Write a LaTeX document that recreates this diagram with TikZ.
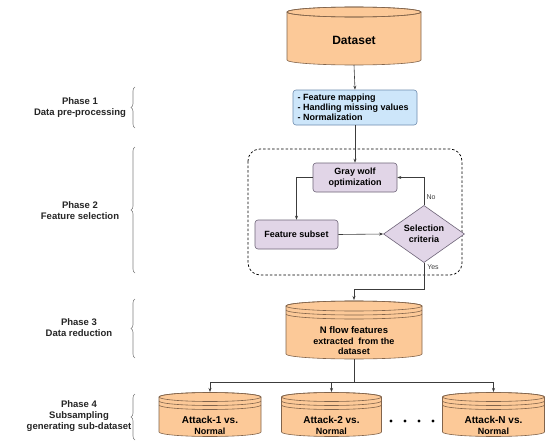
\documentclass[tikz,border=0pt]{standalone}
\usepackage{fontspec}
\setmainfont{Liberation Sans}
\usetikzlibrary{shapes.geometric,arrows.meta,decorations.pathreplacing}
\definecolor{cylfill}{RGB}{252,201,152}
\definecolor{cyldraw}{RGB}{130,100,75}
\definecolor{bluefill}{RGB}{205,230,250}
\definecolor{bluedraw}{RGB}{110,140,175}
\definecolor{purpfill}{RGB}{225,213,231}
\definecolor{purpdraw}{RGB}{110,100,120}
\definecolor{linec}{RGB}{60,60,60}
\tikzset{
  txt/.style={font=\bfseries\fontsize{9}{10.5}\selectfont, align=center, inner sep=0pt},
  phase/.style={font=\bfseries\fontsize{9.5}{11}\selectfont, align=center, text=black!85},
  bluebox/.style={draw=bluedraw, fill=bluefill, rounded corners=3pt, line width=0.6pt},
  purpbox/.style={draw=purpdraw, fill=purpfill, rounded corners=3pt, line width=0.6pt, font=\bfseries\fontsize{9}{10.5}\selectfont, align=center},
  diam/.style={diamond, draw=purpdraw, fill=purpfill, line width=0.6pt, minimum width=81pt, minimum height=50pt, inner sep=0pt, font=\bfseries\fontsize{9}{10.5}\selectfont, align=center},
  conn/.style={draw=linec, line width=0.6pt, -{Stealth[length=4pt,width=3pt]}},
  plain/.style={draw=linec, line width=0.6pt},
  brc/.style={draw=gray, line width=0.6pt, decorate, decoration={brace, amplitude=4pt}},
  smalltxt/.style={font=\fontsize{7}{8}\selectfont, text=black!75}
}
% name, cx, yt, yb, rx, ry, ring offsets, text y, text
\newcommand{\mycyl}[9]{%
  \path[fill=cylfill, draw=cyldraw, line width=0.6pt] (#2-#5,-#3) -- (#2-#5,-#4)
    arc[start angle=180, end angle=360, x radius=#5pt, y radius=#6pt] -- (#2+#5,-#3)
    arc[start angle=0, end angle=180, x radius=#5pt, y radius=#6pt] -- cycle;
  \draw[cyldraw, line width=0.6pt] (#2,-#3) ellipse[x radius=#5pt, y radius=#6pt];
  \foreach \k in {#7} {
    \draw[cyldraw, line width=0.6pt] (#2-#5,{-#3-\k}) arc[start angle=180, end angle=360, x radius=#5pt, y radius=#6pt];
  }
  \node[txt] (#1) at (#2,-#8) {#9};
}
\begin{document}
\begin{tikzpicture}[x=1pt,y=1pt]
\useasboundingbox (0,0) rectangle (550,-447);
\fill[white] (0,0) rectangle (550,-447);

% Dataset
\mycyl{ds}{354}{12}{60}{67}{5}{0}{40}{\fontsize{12}{14}\selectfont Dataset}

% preprocessing box
\node[bluebox, minimum width=124pt, minimum height=35pt] (pre) at (355,-107.5) {};
\node[txt, align=left, anchor=west, font=\bfseries\fontsize{9}{9.8}\selectfont] (pretxt) at (297.5,-107.5) {- Feature mapping\\- Handling missing values\\- Normalization};

% dashed region
\draw[dashed, line width=0.7pt, rounded corners=12pt, dash pattern=on 2.5pt off 2pt] (248,-149) rectangle (462,-275);

% phase 2 nodes
\node[purpbox, minimum width=84pt, minimum height=29pt] (gwo) at (355,-177.5) {Gray wolf\\optimization};
\node[purpbox, minimum width=83pt, minimum height=29pt] (fs) at (296.5,-234.5) {Feature subset};
\node[diam] (sc) at (424,-234) {Selection\\criteria};

% N flow cylinder
\mycyl{nf}{354}{306}{354}{68}{5}{4,8}{341}{\fontsize{9.5}{10}\selectfont N flow features\\extracted~ from the\\dataset}

% small cylinders
\mycyl{a1}{210}{397}{432}{51}{4.5}{4,8}{425.5}{\fontsize{10}{10.5}\selectfont Attack-1 vs.\\Normal}
\mycyl{a2}{331.5}{397}{432}{50}{4.5}{4,8}{425.5}{\fontsize{10}{10.5}\selectfont Attack-2 vs.\\Normal}
\mycyl{an}{493.5}{397}{432}{51}{4.5}{4,8}{425.5}{\fontsize{10}{10.5}\selectfont Attack-N vs.\\Normal}

% dots
\foreach \xx in {391,405,419,433} \fill (\xx,-421) circle[radius=1.6pt];

% coordinates
\coordinate (dsb) at (354,-65);
\coordinate (nft) at (354,-300);
\coordinate (nfb) at (354,-359);
\coordinate (split) at (354,-382);

% connectors
\draw[conn] (dsb) -- (pre.north);
\draw[conn] (pre.south) -- (gwo.north);
\draw[conn] (gwo.west) -| (fs.north);
\draw[conn] (fs.east) -- (sc.west);
\draw[conn] (sc.north) |- (gwo.east);
\draw[conn] (sc.south) -- ++(0,-26) -| (nft);
\draw[plain] (nfb) -- (split);
\draw[conn] (split) -| (210,-392);
\draw[conn] (split) -| (331.5,-392);
\draw[conn] (split) -| (493.5,-392);

\node[smalltxt] (no) at (431,-197) {No};
\node[smalltxt] (yes) at (433,-267) {Yes};

% phases
\node[phase] (p1) at (80,-108) {Phase 1\\Data pre-processing};
\node[phase] (p2) at (80,-211) {Phase 2\\Feature selection};
\node[phase] (p3) at (79,-328) {Phase 3\\Data reduction};
\node[phase] (p4) at (79,-416) {Phase 4\\Subsampling\\generating sub-dataset};

\draw[brc] (135,-128) -- (135,-87);
\draw[brc] (135,-273) -- (135,-147);
\draw[brc] (135,-358) -- (135,-299);
\draw[brc] (135,-440) -- (135,-394);
\end{tikzpicture}
\end{document}
